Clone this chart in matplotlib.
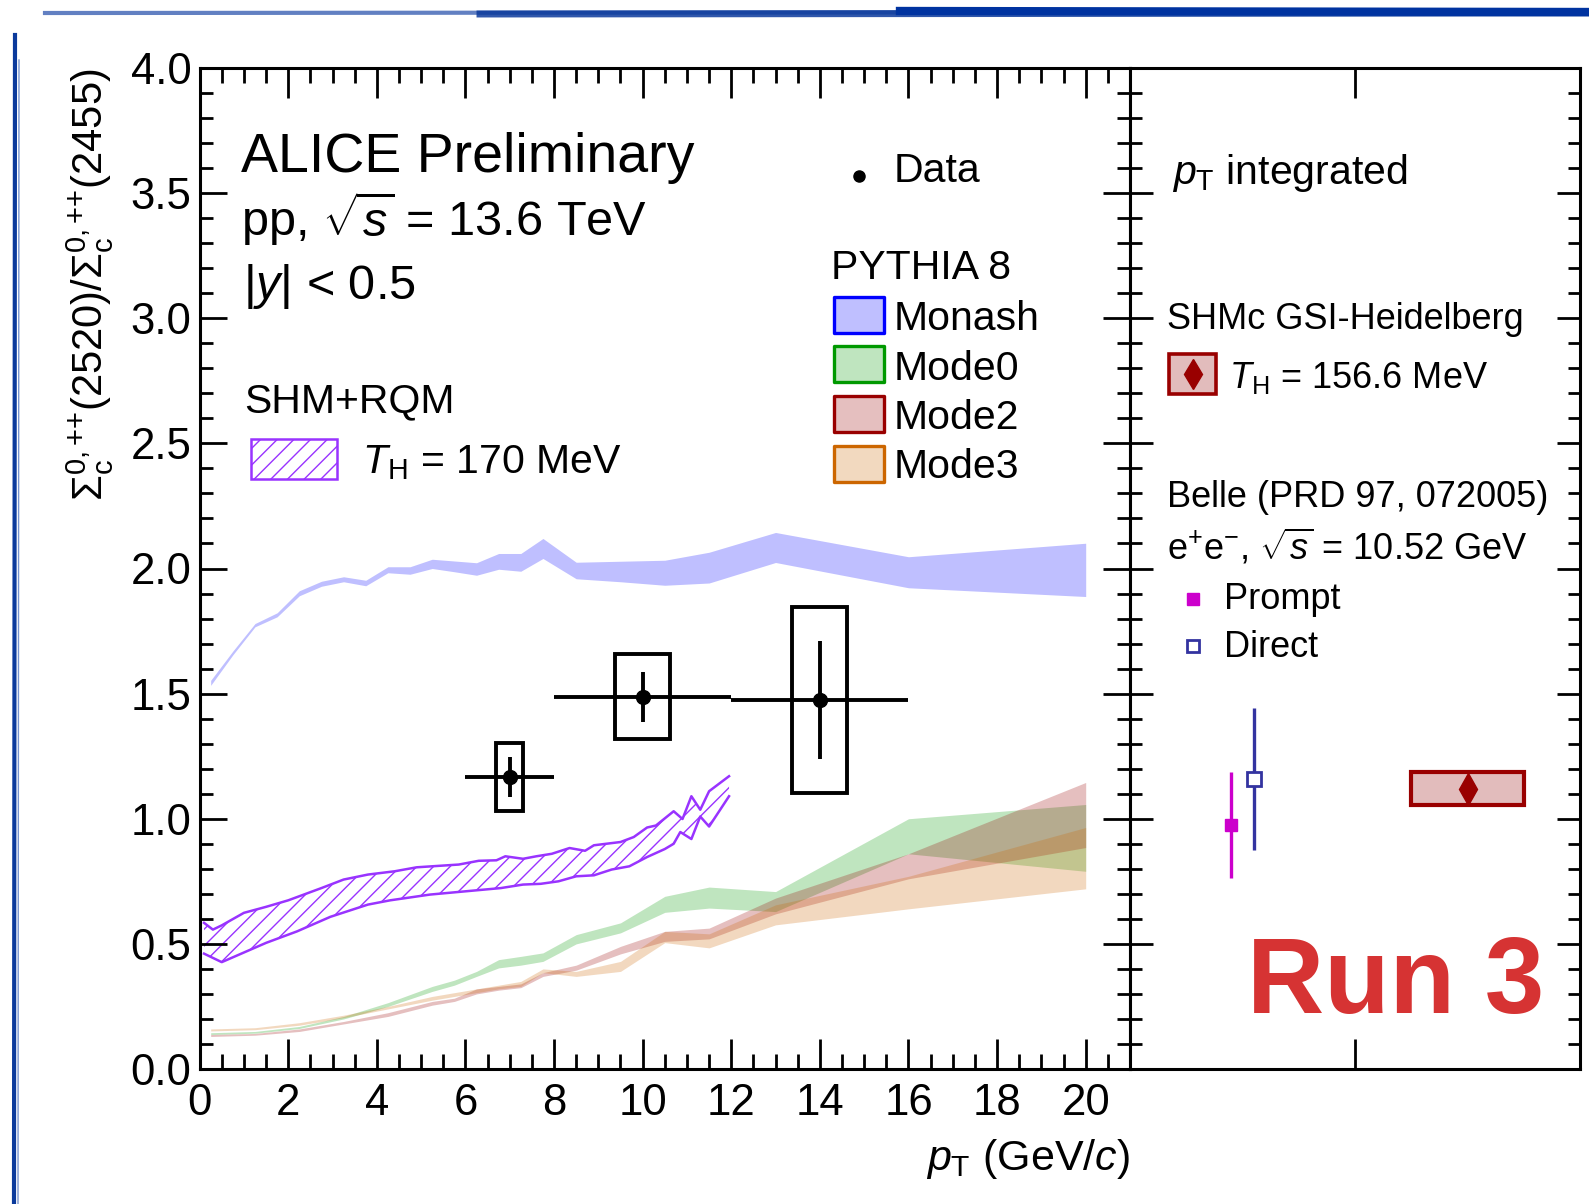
import numpy as np
import matplotlib
matplotlib.use("Agg")
import matplotlib.pyplot as plt
from matplotlib.patches import Rectangle
from matplotlib.lines import Line2D
from matplotlib.ticker import MultipleLocator, NullFormatter

plt.rcParams['font.family'] = ['Liberation Sans', 'DejaVu Sans']
plt.rcParams['mathtext.fontset'] = 'custom'
plt.rcParams['mathtext.rm'] = 'Liberation Sans'
plt.rcParams['mathtext.it'] = 'Liberation Sans:italic'
plt.rcParams['mathtext.bf'] = 'Liberation Sans:bold'
plt.rcParams['hatch.linewidth'] = 1.0

# ALICE Sigma_c(2520)/Sigma_c(2455), pp 13.6 TeV
data_pt = [7.0, 10.0, 14.0]
data_ratio = [1.167, 1.487, 1.475]
data_pt_err = [1.0, 2.0, 2.0]
data_stat = [0.08, 0.10, 0.235]
data_syst = [0.137, 0.17, 0.373]
data_box_hw = [0.31, 0.62, 0.62]

# PYTHIA 8 Monash band
monash_pt = [0.25, 0.75, 1.25, 1.75, 2.25, 2.75, 3.25, 3.75, 4.25, 4.75, 5.25, 5.75,
             6.25, 6.75, 7.25, 7.75, 8.5, 9.5, 10.5, 11.5, 13.0, 16.0, 20.0]
monash_hi = [1.553, 1.670, 1.780, 1.823, 1.911, 1.949, 1.967, 1.953, 2.007, 2.007, 2.037, 2.030,
             2.023, 2.060, 2.060, 2.120, 2.025, 2.029, 2.033, 2.065, 2.144, 2.047, 2.101]
monash_lo = [1.533, 1.655, 1.767, 1.807, 1.891, 1.929, 1.947, 1.931, 1.983, 1.977, 2.000, 1.987,
             1.973, 1.997, 1.989, 2.040, 1.959, 1.947, 1.933, 1.942, 2.024, 1.923, 1.888]

# PYTHIA 8 colour-reconnection modes
mode_pt = [0.25, 1.25, 2.25, 3.25, 4.25, 5.25, 5.75, 6.25, 6.75, 7.25, 7.75, 8.5,
           9.5, 10.5, 11.5, 13.0, 16.0, 20.0]
mode0_hi = [0.145, 0.150, 0.170, 0.210, 0.265, 0.330, 0.355, 0.390, 0.437, 0.450, 0.464, 0.537,
            0.584, 0.690, 0.727, 0.709, 1.000, 1.057]
mode0_lo = [0.138, 0.143, 0.162, 0.200, 0.250, 0.310, 0.335, 0.370, 0.404, 0.415, 0.430, 0.500,
            0.544, 0.626, 0.643, 0.629, 0.860, 0.790]
mode2_hi = [0.138, 0.142, 0.160, 0.190, 0.225, 0.270, 0.283, 0.320, 0.330, 0.340, 0.385, 0.415,
            0.490, 0.550, 0.563, 0.683, 0.860, 1.145]
mode2_lo = [0.130, 0.135, 0.150, 0.180, 0.210, 0.255, 0.270, 0.300, 0.315, 0.325, 0.370, 0.395,
            0.460, 0.510, 0.520, 0.620, 0.760, 0.885]
mode3_hi = [0.160, 0.165, 0.185, 0.215, 0.250, 0.290, 0.305, 0.320, 0.335, 0.350, 0.400, 0.390,
            0.430, 0.550, 0.540, 0.656, 0.770, 0.965]
mode3_lo = [0.152, 0.157, 0.175, 0.205, 0.240, 0.275, 0.290, 0.305, 0.320, 0.330, 0.385, 0.370,
            0.390, 0.505, 0.484, 0.576, 0.640, 0.720]

# SHM+RQM, T_H = 170 MeV (upper and lower edges)
shm_hi_pt = [0.1, 0.3, 0.5, 1.0, 1.5, 2.0, 2.75, 3.25, 3.8, 4.4, 4.9, 5.85, 6.3, 6.7, 6.9, 7.3,
             7.6, 7.95, 8.35, 8.7, 8.9, 9.5, 9.8, 10.1, 10.3, 10.7, 10.9, 11.1, 11.3, 11.5, 11.95]
shm_hi = [0.584, 0.557, 0.574, 0.624, 0.648, 0.674, 0.723, 0.757, 0.777, 0.790, 0.806, 0.817,
          0.832, 0.834, 0.850, 0.840, 0.850, 0.860, 0.883, 0.872, 0.894, 0.907, 0.927, 0.965,
          0.973, 1.030, 0.999, 1.090, 1.036, 1.110, 1.170]
shm_lo_pt = [0.1, 0.5, 1.5, 2.2, 2.95, 3.8, 4.3, 5.2, 6.0, 6.8, 7.3, 7.7, 8.1, 8.5, 8.9, 9.3,
             9.7, 10.1, 10.5, 10.7, 10.85, 11.1, 11.3, 11.5, 11.95]
shm_lo = [0.461, 0.427, 0.504, 0.550, 0.608, 0.657, 0.674, 0.697, 0.710, 0.723, 0.737, 0.740,
          0.750, 0.770, 0.774, 0.797, 0.810, 0.847, 0.879, 0.900, 0.947, 0.919, 1.009, 0.969,
          1.090]

# pT-integrated panel
belle_x = [0.45, 0.55]
belle_ratio = [0.976, 1.160]
belle_err = [0.212, 0.283]
shmc_x = [1.5]
shmc_ratio = [1.12]
shmc_err = [0.065]
shmc_hw = [0.25]

C_MONASH, C_MODE0, C_MODE2, C_MODE3 = '#0000ff', '#009900', '#990000', '#cc6600'
C_SHM = '#9933ff'
ALPHA = 0.25

W, H = 1589, 1204
fig = plt.figure(figsize=(W / 100, H / 100), dpi=100)
L, R, T, B, R2 = 199.6, 1130, 68, 1069, 1580
ax = fig.add_axes([L / W, 1 - B / H, (R - L) / W, (B - T) / H])
ax2 = fig.add_axes([R / W, 1 - B / H, (R2 - R) / W, (B - T) / H])


def fx(px):
    return px / W


def fy(py):
    return 1 - py / H


def ftext(px, py, s, size, **kw):
    fig.text(fx(px), fy(py), s, fontsize=size, va='baseline', **kw)


def key_box(x0, y0, x1, y1, **kw):
    fig.add_artist(Rectangle((fx(x0), fy(y1)), (x1 - x0) / W, (y1 - y0) / H,
                             transform=fig.transFigure, **kw))


def key_marker(px, py, **kw):
    fig.add_artist(Line2D([fx(px)], [fy(py)], transform=fig.transFigure, linestyle='none', **kw))


# model bands
ax.fill_between(monash_pt, monash_lo, monash_hi, color=C_MONASH, alpha=ALPHA, lw=0)
ax.fill_between(mode_pt, mode0_lo, mode0_hi, color=C_MODE0, alpha=ALPHA, lw=0)
ax.fill_between(mode_pt, mode2_lo, mode2_hi, color=C_MODE2, alpha=ALPHA, lw=0)
ax.fill_between(mode_pt, mode3_lo, mode3_hi, color=C_MODE3, alpha=ALPHA, lw=0)

shm_poly_x = list(shm_hi_pt) + list(shm_lo_pt[::-1])
shm_poly_y = list(shm_hi) + list(shm_lo[::-1])
ax.fill(shm_poly_x, shm_poly_y, facecolor='none', edgecolor=C_SHM, hatch='//', lw=0)
ax.plot(shm_hi_pt, shm_hi, color=C_SHM, lw=1.8)
ax.plot(shm_lo_pt, shm_lo, color=C_SHM, lw=1.8)

# data: syst boxes + stat bars
for x, y, s, hw in zip(data_pt, data_ratio, data_syst, data_box_hw):
    ax.add_patch(Rectangle((x - hw, y - s), 2 * hw, 2 * s, fill=False, edgecolor='k', lw=2.8))
ax.errorbar(data_pt, data_ratio, xerr=data_pt_err, yerr=data_stat, fmt='o', color='k',
            ms=10, elinewidth=2.8, capsize=0, zorder=5)

ax.set_xlim(0, 21)
ax.set_ylim(0, 4)
ax.xaxis.set_minor_locator(MultipleLocator(0.5))
ax.yaxis.set_major_locator(MultipleLocator(0.5))
ax.yaxis.set_minor_locator(MultipleLocator(0.1))
ax.set_xticks([0, 2, 4, 6, 8, 10, 12, 14, 16, 18, 20])
ax.yaxis.set_major_formatter(matplotlib.ticker.FormatStrFormatter('%.1f'))
ax.tick_params(which='both', direction='in', top=True, right=True, width=2.0,
               labelsize=31.5, colors='k')
ax.tick_params(axis='x', which='major', length=21.6, pad=10)
ax.tick_params(axis='x', which='minor', length=10.8)
ax.tick_params(axis='y', which='major', length=19.5, pad=6)
ax.tick_params(axis='y', which='minor', length=9.7)
for sp in ax.spines.values():
    sp.set_linewidth(2.2)

ax.set_xlabel(r'$p_{\rm T}$ (GeV/$c$)', fontsize=31, loc='right')
ax.xaxis.set_label_coords(1.0, -0.068)
ax.set_ylabel(r'$\Sigma_{\rm c}^{0,{+}{+}}$(2520)/$\Sigma_{\rm c}^{0,{+}{+}}$(2455)',
              fontsize=30, loc='top')
ax.yaxis.set_label_coords(-0.09, 1.0)

# right panel
ax2.errorbar(belle_x[:1], belle_ratio[:1], yerr=belle_err[:1], fmt='s', color='#cc00cc',
             ms=9, elinewidth=2.4, capsize=0)
ax2.errorbar(belle_x[1:], belle_ratio[1:], yerr=belle_err[1:], fmt='s', color='#3333a0',
             mfc='white', mec='#3333a0', mew=2, ms=10, elinewidth=2.4, capsize=0)
for x, y, s, hw in zip(shmc_x, shmc_ratio, shmc_err, shmc_hw):
    ax2.add_patch(Rectangle((x - hw, y - s), 2 * hw, 2 * s, facecolor='#e2bcbc',
                            edgecolor=C_MODE2, lw=3))
ax2.plot(shmc_x, shmc_ratio, 'd', color=C_MODE2, ms=16)

ax2.set_xlim(0, 2)
ax2.set_ylim(0, 4)
ax2.set_xticks([1])
ax2.xaxis.set_major_formatter(NullFormatter())
ax2.yaxis.set_major_locator(MultipleLocator(0.5))
ax2.yaxis.set_minor_locator(MultipleLocator(0.1))
ax2.yaxis.set_major_formatter(NullFormatter())
ax2.tick_params(which='both', direction='in', top=True, right=True, width=2.0)
ax2.tick_params(axis='x', which='major', length=21.6)
ax2.tick_params(axis='y', which='major', length=16.5)
ax2.tick_params(axis='y', which='minor', length=8.6)
for sp in ax2.spines.values():
    sp.set_linewidth(2.2)

# text and legends
ftext(241, 172, 'ALICE Preliminary', 40)
ftext(241, 236, r'pp, $\sqrt{s}$ = 13.6 TeV', 35)
ftext(243, 299, r'|$y$| < 0.5', 35)

ftext(244, 412, 'SHM+RQM', 29.5)
key_box(251, 439, 337, 479, facecolor='none', edgecolor=C_SHM, hatch='//', lw=1.8)
ftext(362, 473, r'$T_{\rm H}$ = 170 MeV', 29.5)

key_marker(859, 176, marker='o', color='k', ms=8)
ftext(894, 182, 'Data', 29.5)

ftext(831, 279, 'PYTHIA 8', 29.5)
legend_rows = [('Monash', C_MONASH, '#bfbfff'), ('Mode0', C_MODE0, '#bfe5bf'),
               ('Mode2', C_MODE2, '#e5bfbf'), ('Mode3', C_MODE3, '#f2d9bf')]
for i, (name, ec, fc) in enumerate(legend_rows):
    y0 = 297 + 49.5 * i
    key_box(834, y0, 884, y0 + 36, facecolor=fc, edgecolor=ec, lw=2.4, joinstyle='round')
    ftext(894, y0 + 33, name, 29.5)

ftext(1172, 184, r'$p_{\rm T}$ integrated', 29.5)
ftext(1167, 329, 'SHMc GSI-Heidelberg', 26)
key_box(1169, 354, 1216, 394, facecolor='#e2bcbc', edgecolor=C_MODE2, lw=2.6)
key_marker(1192.5, 374, marker='d', color=C_MODE2, ms=15)
ftext(1229, 388, r'$T_{\rm H}$ = 156.6 MeV', 26)
ftext(1167, 507, 'Belle (PRD 97, 072005)', 26)
ftext(1167, 560, r'e$^{+}$e$^{-}$, $\sqrt{s}$ = 10.52 GeV', 26)
key_marker(1193, 599, marker='s', color='#cc00cc', ms=8)
ftext(1224, 609, 'Prompt', 26)
key_marker(1193, 646, marker='s', mfc='white', mec='#3333a0', mew=2, ms=9)
ftext(1224, 657, 'Direct', 26)

ftext(1247, 1013, 'Run 3', 77, color='#d63333', fontweight='bold')

# slide frame brush strokes
fig.add_artist(Line2D([fx(45), fx(1589)], [fy(13), fy(12)], transform=fig.transFigure,
                      color='#1f4aa8', lw=3, alpha=0.7))
fig.add_artist(Line2D([fx(480), fx(1589)], [fy(14), fy(13)], transform=fig.transFigure,
                      color='#0b3a9c', lw=5, alpha=0.85))
fig.add_artist(Line2D([fx(900), fx(1589)], [fy(11), fy(12)], transform=fig.transFigure,
                      color='#0033a0', lw=6))
fig.add_artist(Line2D([fx(15), fx(14)], [fy(35), fy(1204)], transform=fig.transFigure,
                      color='#0b3a9c', lw=3))
fig.add_artist(Line2D([fx(19), fx(18)], [fy(60), fy(1204)], transform=fig.transFigure,
                      color='#3d66bb', lw=1, alpha=0.7))

fig.savefig('out.png', dpi=100)
